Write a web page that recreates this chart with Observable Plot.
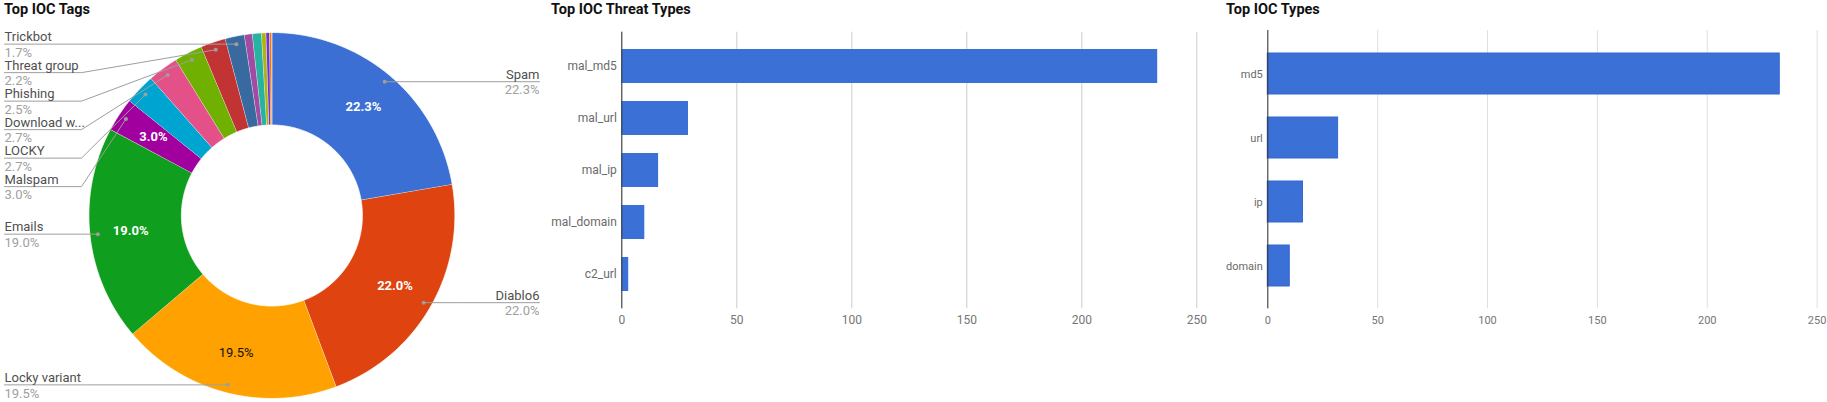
<!DOCTYPE html>
<html><head><meta charset="utf-8">
<script src="https://cdn.jsdelivr.net/npm/d3@7"></script>
<script src="https://cdn.jsdelivr.net/npm/@observablehq/plot@0.6"></script>
<style>
html,body{margin:0;padding:0;background:#fff;overflow:hidden;}
#root{position:relative;width:1827px;height:402px;font-family:Roboto,sans-serif;}
.title{position:absolute;top:0px;font-family:Roboto,sans-serif;font-weight:bold;font-size:14.5px;line-height:19px;color:#111;white-space:nowrap;z-index:2;}
.panel{position:absolute;top:0;}
.panel svg{overflow:visible;}
</style></head><body><div id="root"></div>
<script>
// ---- data ----
const tagNames = ["Spam","Diablo6","Locky variant","Emails","Malspam","LOCKY","Download w...","Phishing","Threat group","Trickbot","Other 1","Other 2","Other 3","Other 4","Other 5"];
const tagPercents = [22.3,22.0,19.5,19.0,3.0,2.7,2.7,2.5,2.2,1.7,0.7,0.8,0.4,0.3,0.2];
const tagColors = ["#3b6fd3","#de4310","#ffa100","#0f9e1e","#a1009f","#00a4d0","#e45189","#6fb000","#c23434","#386a9f","#a14ba3","#26b3a1","#b3b214","#6c35d7","#ec7a05"];
const threatTypes = ["mal_md5","mal_url","mal_ip","mal_domain","c2_url"];
const threatCounts = [233,29,16,10,3];
const iocTypes = ["md5","url","ip","domain"];
const iocCounts = [233,32,16,10];
const xTicks = [0,50,100,150,200,250];
const titles = ["Top IOC Tags","Top IOC Threat Types","Top IOC Types"];

const root = document.getElementById("root");
function addTitle(text, left){
  const d = document.createElement("div");
  d.className = "title"; d.style.left = left + "px"; d.textContent = text;
  root.appendChild(d);
}
function addPanel(node, left){
  const d = document.createElement("div");
  d.className = "panel"; d.style.left = left + "px";
  d.appendChild(node); root.appendChild(d);
}

// ---- donut ----
const PW = 548, PH = 402, cx = 271.4, cy = 215, R = 183, R0 = 90.5, dotR = 175, textR = 142, gap = 28.5;
const total = d3.sum(tagPercents);
let acc = 0;
const slices = tagNames.map((name, i) => {
  const a0 = acc / total * 2 * Math.PI; acc += tagPercents[i];
  const a1 = acc / total * 2 * Math.PI;
  return {name, pct: tagPercents[i], color: tagColors[i], a0, a1, mid: (a0 + a1) / 2};
});
const pt = (a, rad) => [cx + rad * Math.sin(a), cy - rad * Math.cos(a)];
const slicePts = [];
for (const s of slices) {
  const n = Math.max(2, Math.ceil((s.a1 - s.a0) / (Math.PI / 360)));
  for (let k = 0; k <= n; k++) { const [x, y] = pt(s.a0 + (s.a1 - s.a0) * k / n, R); slicePts.push({name: s.name, x, y}); }
  for (let k = n; k >= 0; k--) { const [x, y] = pt(s.a0 + (s.a1 - s.a0) * k / n, R0); slicePts.push({name: s.name, x, y}); }
}
const labeled = slices.filter(s => s.pct >= 1.5);
labeled.forEach(s => {
  [s.dx, s.dy] = pt(s.mid, dotR);
  s.side = s.mid < Math.PI ? "right" : "left";
  s.tx = s.side === "left" ? 4 : 539;
  s.ux = s.side === "left" ? 81 : 461;
  s.pctText = s.pct.toFixed(1) + "%";
});
for (const side of ["left", "right"]) {
  const arr = labeled.filter(s => s.side === side).sort((a, b) => a.dy - b.dy);
  let prev = -Infinity;
  for (const s of arr) { s.ly = Math.max(s.dy, prev + gap); prev = s.ly; }
}
const leaderPts = [];
labeled.forEach(s => {
  leaderPts.push({name: s.name, x: s.tx, y: s.ly}, {name: s.name, x: s.ux, y: s.ly}, {name: s.name, x: s.dx, y: s.dy});
});
const inside = slices.filter(s => s.pct >= 3).map(s => {
  const [x, y] = pt(s.mid, textR);
  return {x, y, text: s.pct.toFixed(1) + "%", dark: d3.lab(s.color).l > 70};
});

const pie = Plot.plot({
  width: PW, height: PH, margin: 0,
  x: {domain: [0, PW], range: [0, PW], axis: null},
  y: {domain: [0, PH], range: [0, PH], axis: null},
  color: {domain: tagNames, range: tagColors},
  style: {fontFamily: "Roboto, sans-serif", background: "transparent"},
  marks: [
    Plot.line(slicePts, {x: "x", y: "y", z: "name", fill: "name", stroke: "#fff", strokeWidth: 0.8, strokeLinejoin: "miter"}),
    Plot.line(leaderPts, {x: "x", y: "y", z: "name", stroke: "#9e9e9e", strokeWidth: 1}),
    Plot.dot(labeled, {x: "dx", y: "dy", r: 2, fill: "#9e9e9e", stroke: null}),
    Plot.text(labeled.filter(s => s.side === "left"), {x: "tx", y: d => d.ly - 7, text: "name", textAnchor: "start", fill: "#505050", fontSize: 13}),
    Plot.text(labeled.filter(s => s.side === "left"), {x: "tx", y: d => d.ly + 8.5, text: "pctText", textAnchor: "start", fill: "#a0a0a0", fontSize: 13}),
    Plot.text(labeled.filter(s => s.side === "right"), {x: "tx", y: d => d.ly - 7, text: "name", textAnchor: "end", fill: "#505050", fontSize: 13}),
    Plot.text(labeled.filter(s => s.side === "right"), {x: "tx", y: d => d.ly + 8.5, text: "pctText", textAnchor: "end", fill: "#a0a0a0", fontSize: 13}),
    Plot.text(inside.filter(d => !d.dark), {x: "x", y: "y", text: "text", fill: "#fff", fontSize: 13, fontWeight: "bold"}),
    Plot.text(inside.filter(d => d.dark), {x: "x", y: "y", text: "text", fill: "#111", fontSize: 13})
  ]
});

// ---- bar charts ----
function barChart(names, counts, o) {
  const data = names.map((n, i) => ({name: n, value: counts[i]}));
  return Plot.plot({
    width: o.width, height: 402,
    marginLeft: o.ml, marginRight: o.mr, marginTop: o.mt, marginBottom: o.mb,
    style: {fontFamily: "Roboto, sans-serif", fontSize: o.fs + "px", color: "#757575", background: "transparent"},
    x: {domain: [0, 250], label: null},
    y: {domain: names, label: null, paddingInner: o.pi, paddingOuter: o.po},
    marks: [
      Plot.gridX(xTicks, {stroke: o.grid, strokeOpacity: 1}),
      Plot.barX(data, {x: "value", y: "name", fill: "#3b71d6", stroke: o.barStroke, strokeWidth: 1}),
      Plot.ruleX([0], {stroke: "#333", strokeWidth: 1}),
      Plot.axisX(xTicks, {tickSize: 0, tickPadding: 7, fontSize: o.fs, color: "#757575", label: null}),
      Plot.axisY({tickSize: 0, tickPadding: 5, fontSize: o.fs, color: "#6a6a6a", label: null})
    ]
  });
}
const c1Left = 548, c2Left = 1210;
const chart1 = barChart(threatTypes, threatCounts, {width: 1212 - c1Left, ml: 621.3 - c1Left, mr: 1212 - 1196.3, mt: 31.7, mb: 402 - 308.3, pi: 0.352, po: 0.333, fs: 12, grid: "#cccccc", barStroke: "none"});
const chart2 = barChart(iocTypes, iocCounts, {width: 1827 - c2Left, ml: 1267.3 - c2Left, mr: 1827 - 1816.6, mt: 30, mb: 402 - 308.3, pi: 0.364, po: 0.347, fs: 11, grid: "#e0e0e0", barStroke: "#3467cf"});

addPanel(pie, 0);
addPanel(chart1, c1Left);
addPanel(chart2, c2Left);
addTitle(titles[0], 4);
addTitle(titles[1], 551);
addTitle(titles[2], 1226);
</script></body></html>
